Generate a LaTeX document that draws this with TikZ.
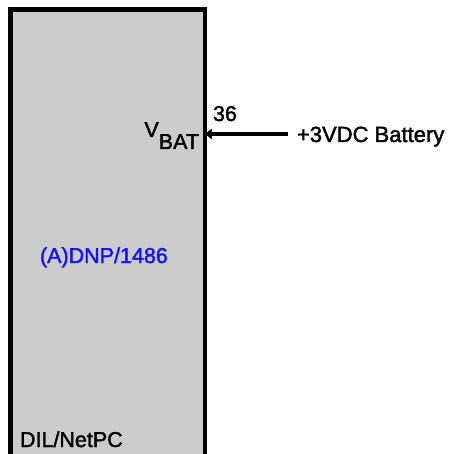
\documentclass[tikz,border=0pt]{standalone}
\usepackage{fontspec}
\setmainfont{Liberation Sans}[FakeBold=1.8]
\usetikzlibrary{arrows.meta}
\definecolor{chipgray}{HTML}{CCCCCC}
\definecolor{partblue}{HTML}{1414F5}
\begin{document}
\begin{tikzpicture}[x=1pt,y=-1pt,
  chipbox/.style={draw=black, fill=chipgray, line width=4.5pt, rectangle, inner sep=0pt, outer sep=0pt},
  lbl/.style={inner sep=0pt, outer sep=0pt, font=\fontsize{21.5}{24}\selectfont},
  wire/.style={line width=4pt}]
\useasboundingbox (0,0) rectangle (449,454);
\clip (0,0) rectangle (449,454);
\node[chipbox, minimum width=194.3pt, minimum height=460pt, anchor=north west] (chip) at (10.5,9.5) {};
\node[lbl, anchor=base west] (pin) at (213,121) {36};
\node[lbl, anchor=base east] (vbat) at (199,149) {\raisebox{12pt}{V}BAT};
\node[lbl, anchor=base west, font=\fontsize{22}{24}\selectfont] (bat) at (297,142) {+3VDC Battery};
\node[lbl, anchor=base west, text=partblue] (part) at (40,263) {(A)DNP/1486};
\node[lbl, anchor=base west] (dil) at (20,447) {DIL/NetPC};
\coordinate (vin) at (288,134);
\draw[wire, -{Triangle[length=7pt,width=10pt]}] (vin) -- (vin -| chip.east);
\end{tikzpicture}
\end{document}
